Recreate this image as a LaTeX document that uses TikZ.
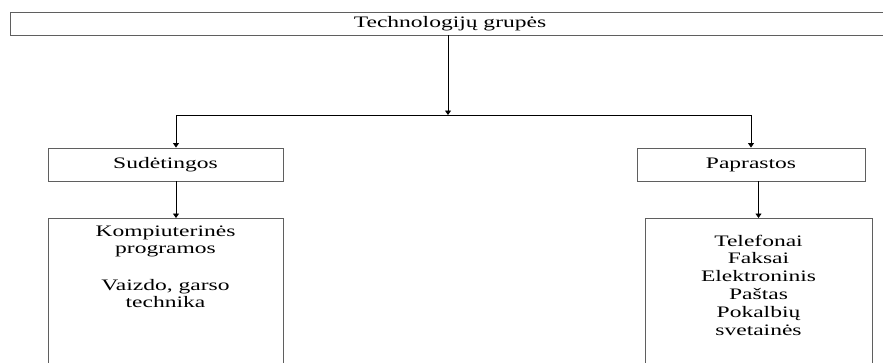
\documentclass[tikz,border=0pt]{standalone}
\usepackage{fontspec}
\setmainfont{Liberation Serif}[FakeStretch=1.47]
\usetikzlibrary{arrows.meta,positioning}
\definecolor{boxgray}{RGB}{95,95,95}

\begin{document}
\begin{tikzpicture}[x=1pt,y=-1pt, >={Triangle[length=4.5pt,width=6pt]}]
  \tikzstyle{group}=[rectangle, draw=boxgray, line width=0.9pt, inner sep=0pt, font=\fontsize{16}{18}\selectfont]
  \tikzstyle{list}=[inner sep=0pt, align=center]
  \tikzstyle{link}=[->, line width=0.9pt]
  \useasboundingbox (0,0) rectangle (883,362);
  \clip (0,0) rectangle (883,362);
  \node[group, minimum width=880pt, minimum height=23pt] (tech) at (450,23.5) {Technologijų grupės};
  \node[group, minimum width=235pt, minimum height=33pt] (sud) at (165.5,164.5) {Sudėtingos};
  \node[group, minimum width=228pt, minimum height=33pt] (pap) at (751,164.5) {Paprastos};
  \node[group, minimum width=235pt, minimum height=180pt, anchor=north] (sudlist) at (165.5,218) {};
  \node[group, minimum width=227pt, minimum height=180pt, anchor=north] (paplist) at (758.5,218) {};
  \node[list, font=\fontsize{16}{16.6}\selectfont, below=8pt of sudlist.north] (sudtext) {Kompiuterinės\\programos\\[20.5pt]Vaizdo, garso\\technika};
  \node[list, font=\fontsize{16}{17.8}\selectfont, below=16.7pt of paplist.north] (paptext) {Telefonai\\Faksai\\Elektroninis\\Paštas\\Pokalbių\\svetainės};
  \coordinate (split) at (448,115);
  \coordinate (lsplit) at (176,115);
  \coordinate (rsplit) at (751,115);
  \draw[link] (tech.south -| split) -- (split);
  \draw[line width=0.9pt] (lsplit) -- (rsplit);
  \draw[link] (lsplit) -- (lsplit |- sud.north);
  \draw[link] (rsplit) -- (rsplit |- pap.north);
  \draw[link] (sud.south -| lsplit) -- (lsplit |- sudlist.north);
  \draw[link] (pap.south -| paplist) -- (paplist.north);
\end{tikzpicture}
\end{document}
